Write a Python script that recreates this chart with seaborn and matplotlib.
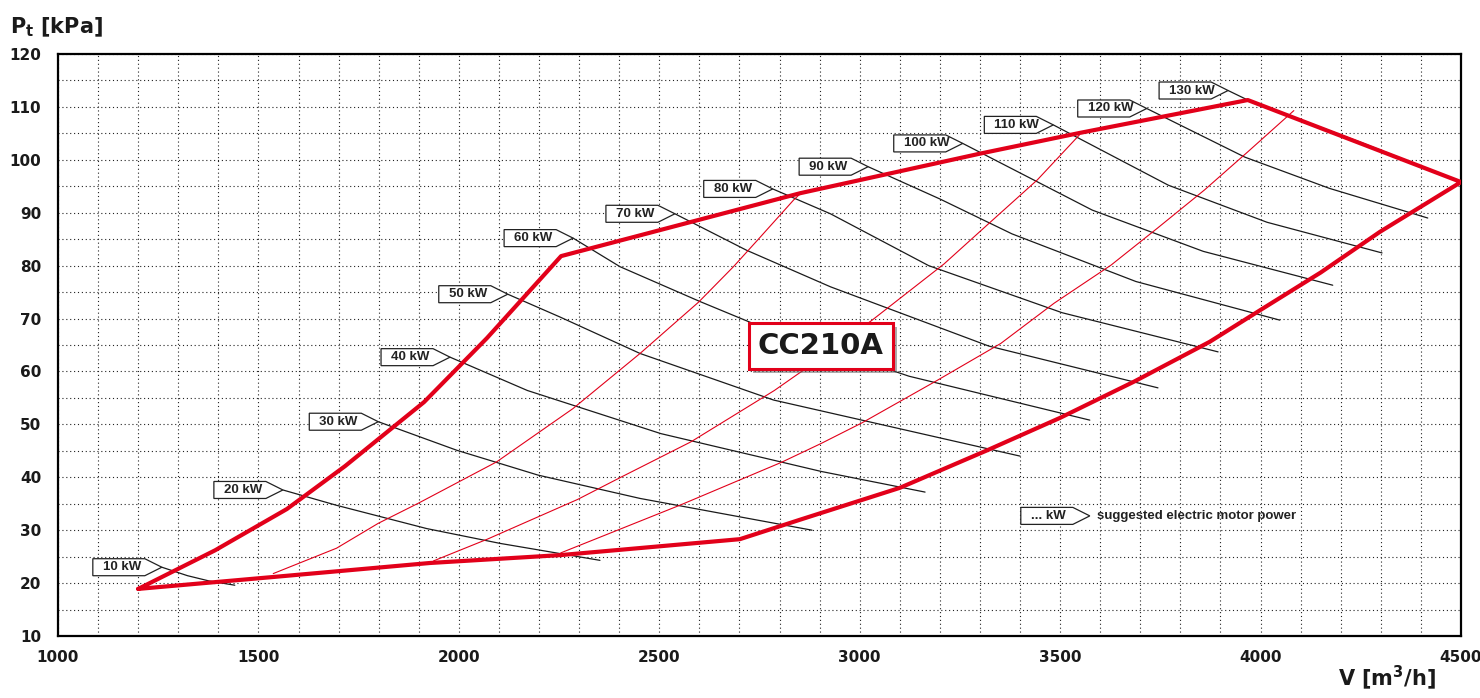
import numpy as np
import matplotlib
matplotlib.use("Agg")
import matplotlib.pyplot as plt
import matplotlib.transforms as mtransforms
import matplotlib.patheffects as pe
from matplotlib.patches import Polygon
from matplotlib.ticker import MultipleLocator
import seaborn as sns

# operating envelope (thick red)
env_v = [1200, 1392, 1571, 1716, 1913, 2070, 2255, 2551, 2852, 3302, 3550, 3968,
         4500, 4298, 4150, 3993, 3873, 3685, 3499, 3318, 3100, 2852, 2701,
         2255, 1928, 1529, 1200]
env_p = [18.9, 26.2, 34.0, 42.1, 54.2, 66.3, 81.8, 87.7, 93.7, 101.2, 105.1, 111.3,
         95.8, 86.4, 78.7, 71.3, 65.6, 58.1, 51.2, 45.1, 38.0, 32.0, 28.3,
         25.3, 23.8, 21.1, 18.9]

# system curves (thin red)
sys_v = [[1537, 1695, 1799, 1899, 2094, 2285, 2452, 2598, 2685, 2752, 2835, 2856],
         [1937, 2071, 2296, 2404, 2579, 2787, 2872, 3031, 3210, 3327, 3443, 3548],
         [2254, 2554, 2804, 2904, 3006, 3193, 3352, 3485, 3627, 3743, 3860, 3968, 4083]]
sys_p = [[21.8, 26.6, 31.3, 35.1, 42.9, 53.0, 63.4, 73.1, 79.8, 85.4, 92.4, 93.9],
         [24.2, 28.3, 35.8, 40.0, 46.7, 56.4, 60.9, 69.7, 80.3, 88.3, 96.2, 104.7],
         [25.7, 34.8, 42.8, 46.4, 50.3, 58.3, 65.3, 72.9, 80.1, 87.1, 94.3, 101.5, 109.3]]

# motor power curves (black)
kw_labels = ["10 kW", "20 kW", "30 kW", "40 kW", "50 kW", "60 kW", "70 kW",
             "80 kW", "90 kW", "100 kW", "110 kW", "120 kW", "130 kW"]
kw_v = [[1259, 1323, 1377, 1441],
        [1561, 1695, 1920, 2103, 2352],
        [1799, 1995, 2198, 2452, 2881],
        [1978, 2171, 2504, 2904, 3163],
        [2122, 2252, 2452, 2785, 3400],
        [2285, 2402, 2602, 2736, 3123, 3574],
        [2539, 2718, 2927, 3322, 3744],
        [2783, 2927, 3172, 3505, 3894],
        [3021, 3200, 3380, 3689, 4048],
        [3257, 3580, 3857, 4180],
        [3483, 3770, 4016, 4303],
        [3716, 3961, 4172, 4417],
        [3919, 3968, 4250, 4500]]
kw_p = [[23.0, 21.4, 20.4, 19.6],
        [37.6, 34.7, 30.3, 27.5, 24.3],
        [50.5, 45.1, 40.4, 36.0, 30.0],
        [62.7, 56.4, 48.25, 41.1, 37.2],
        [74.6, 70.3, 63.4, 54.6, 44.0],
        [85.2, 79.8, 73.2, 69.0, 59.1, 50.8],
        [89.8, 82.9, 76.0, 64.8, 56.9],
        [94.5, 89.8, 80.0, 71.1, 63.7],
        [98.7, 92.6, 86.0, 77.0, 69.7],
        [103.1, 90.5, 82.7, 76.3],
        [106.6, 95.2, 88.2, 82.4],
        [109.7, 100.5, 94.6, 89.0],
        [113.1, 111.3, 103.3, 95.8]]

legend_v, legend_p = 3574, 32.7
model_name = "CC210A"
model_v, model_p = 2903, 64.8

RED = "#e2001a"

sns.set_theme(style="white")
plt.rcParams["font.family"] = ["DejaVu Sans"]

fig = plt.figure(figsize=(14.8, 6.98), dpi=100)
ax = fig.add_axes([58 / 1480, 62 / 698, 1403 / 1480, 582 / 698])


def tag(x, y, text):
    # pentagon label whose tip sits on the start of a curve
    tr = fig.dpi_scale_trans + mtransforms.ScaledTranslation(x, y, ax.transData)
    verts = np.array([[0, 0], [-17, 8.5], [-69, 8.5], [-69, -8.5], [-17, -8.5]]) / 100
    ax.add_patch(Polygon(verts, closed=True, transform=tr, fc="white",
                         ec="#222222", lw=0.9, zorder=6, clip_on=False))
    ax.annotate(text, (x, y), xytext=(-59, 0), textcoords="offset pixels",
                ha="left", va="center", fontsize=9.5, fontweight="bold",
                family="Liberation Sans", color="#222222", zorder=7)


for v, p in zip(kw_v, kw_p):
    sns.lineplot(x=v, y=p, sort=False, estimator=None, color="#1a1a1a",
                 lw=0.9, ax=ax, zorder=3)
for v, p in zip(sys_v, sys_p):
    sns.lineplot(x=v, y=p, sort=False, estimator=None, color=RED,
                 lw=0.8, ax=ax, zorder=3)
sns.lineplot(x=env_v, y=env_p, sort=False, estimator=None, color=RED,
             lw=3.0, ax=ax, zorder=4)

for v, p, lab in zip(kw_v, kw_p, kw_labels):
    tag(v[0], p[0], lab)

tag(legend_v, legend_p, "... kW")
ax.annotate("suggested electric motor power", (legend_v, legend_p), xytext=(7, 0),
            textcoords="offset pixels", ha="left", va="center", fontsize=9.5,
            fontweight="bold", family="Liberation Sans", color="#222222")

t = ax.text(model_v, model_p, model_name, ha="center", va="center", fontsize=21,
            fontweight="bold", color="#1a1a1a", zorder=8,
            bbox=dict(boxstyle="square,pad=0.3", fc="white", ec=RED, lw=2.2))
t.get_bbox_patch().set_path_effects([
    pe.SimplePatchShadow(offset=(3, -3), shadow_rgbFace="0.35", alpha=0.5),
    pe.Normal()])

ax.set_xlim(1000, 4500)
ax.set_ylim(10, 120)
ax.xaxis.set_major_locator(MultipleLocator(500))
ax.xaxis.set_minor_locator(MultipleLocator(100))
ax.yaxis.set_major_locator(MultipleLocator(10))
ax.yaxis.set_minor_locator(MultipleLocator(5))
ax.grid(True, which="both", color="#222222", lw=0.8, ls=(0, (1, 2.5)))
ax.set_axisbelow(True)
for s in ax.spines.values():
    s.set_color("black")
    s.set_linewidth(1.6)
ax.tick_params(axis="both", which="major", direction="out", length=5, width=1,
               color="black", labelsize=11, pad=7)
ax.tick_params(axis="y", which="minor", direction="out", length=5, width=1,
               color="black")
ax.tick_params(axis="x", which="minor", length=0)
ax.tick_params(axis="x", which="major", pad=5)
for lab in ax.get_xticklabels() + ax.get_yticklabels():
    lab.set_fontweight("bold")
    lab.set_color("#1a1a1a")
ax.set_xlabel("")
ax.set_ylabel("")

fig.text(10 / 1480, 1 - 33 / 698, r"P$_\mathbf{t}$ [kPa]", ha="left", va="baseline",
         fontsize=15, fontweight="bold", color="#1a1a1a")
fig.text(1338 / 1480, 6 / 698, r"V [m$^\mathbf{3}$/h]", ha="left", va="bottom",
         fontsize=15, fontweight="bold", color="#1a1a1a")

fig.savefig("out.png", dpi=100)
